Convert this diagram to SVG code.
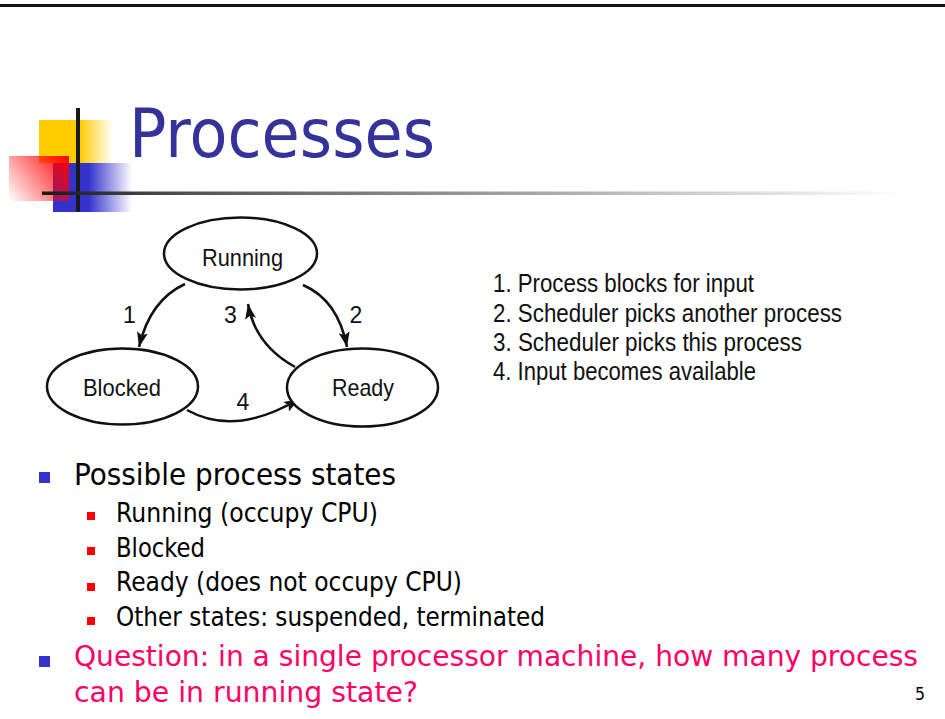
<svg xmlns="http://www.w3.org/2000/svg" width="945" height="719" viewBox="0 0 945 719">
  <defs>
    <style>
      .slide { font-family: "DejaVu Sans", Verdana, sans-serif; }
      .fig { font-family: "Liberation Sans", Arial, Helvetica, sans-serif; fill: #111; }
      .state { fill: #fff; stroke: #111; stroke-width: 2.5; }
      .edge { fill: none; stroke: #111; stroke-width: 2.5; marker-end: url(#head); }
      .b1 { fill: #3333cc; }
      .b2 { fill: #ff0000; }
    </style>
    <marker id="head" markerUnits="userSpaceOnUse" markerWidth="17" markerHeight="12" refX="15" refY="6" orient="auto">
      <path d="M0,0.5 L15,6 L0,11.5 L3,6 Z" fill="#111"/>
    </marker>
    <linearGradient id="gYellow" gradientUnits="userSpaceOnUse" x1="39" y1="0" x2="113" y2="0">
      <stop offset="0" stop-color="#ffcc00"/>
      <stop offset="0.55" stop-color="#ffcc00"/>
      <stop offset="1" stop-color="#ffcc00" stop-opacity="0"/>
    </linearGradient>
    <linearGradient id="gBlue" gradientUnits="userSpaceOnUse" x1="53" y1="0" x2="132" y2="0">
      <stop offset="0" stop-color="#3333cc"/>
      <stop offset="0.45" stop-color="#3333cc"/>
      <stop offset="1" stop-color="#3333cc" stop-opacity="0"/>
    </linearGradient>
    <linearGradient id="gRed" gradientUnits="userSpaceOnUse" x1="69" y1="156" x2="9" y2="201">
      <stop offset="0" stop-color="#ff0000"/>
      <stop offset="1" stop-color="#ff0000" stop-opacity="0"/>
    </linearGradient>
    <linearGradient id="gRule" gradientUnits="userSpaceOnUse" x1="42" y1="0" x2="900" y2="0">
      <stop offset="0" stop-color="#1a1a1a"/>
      <stop offset="0.18" stop-color="#555"/>
      <stop offset="1" stop-color="#fff"/>
    </linearGradient>
  </defs>

  <rect width="945" height="719" fill="#fff"/>

  <!-- top border -->
  <rect x="0" y="4" width="945" height="3" fill="#111"/>

  <!-- title ornament -->
  <g id="logo">
    <rect x="39" y="120" width="74" height="43" fill="url(#gYellow)"/>
    <rect x="53" y="163" width="79" height="49" fill="url(#gBlue)"/>
    <rect x="9" y="156" width="60" height="45" fill="url(#gRed)"/>
    <rect x="76" y="108" width="4" height="104" fill="#1a1a1a"/>
    <rect x="42" y="191.5" width="858" height="3.5" fill="url(#gRule)"/>
  </g>

  <text id="title" class="slide" x="129" y="157" font-size="67" fill="#333399" textLength="306" lengthAdjust="spacingAndGlyphs">Processes</text>

  <!-- state diagram: connectors -->
  <g id="connectors">
    <path class="edge" d="M185,284 Q150,300 139,347"/>
    <path class="edge" d="M303,285 Q338,300 347,347"/>
    <path class="edge" d="M295,367 Q255,345 248,304"/>
    <path class="edge" d="M187,410 Q235,437 299,399"/>
    <g class="fig" font-size="23" text-anchor="middle">
      <text x="129.5" y="323">1</text>
      <text x="356" y="323">2</text>
      <text x="230.5" y="323">3</text>
      <text x="243" y="410">4</text>
    </g>
  </g>

  <g id="running">
    <ellipse class="state" cx="240.5" cy="253.5" rx="76.5" ry="36"/>
    <text class="fig" x="202" y="265.5" font-size="24" textLength="81" lengthAdjust="spacingAndGlyphs">Running</text>
  </g>
  <g id="blocked">
    <ellipse class="state" cx="122.5" cy="386.5" rx="75.5" ry="38"/>
    <text class="fig" x="83" y="396" font-size="24" textLength="78" lengthAdjust="spacingAndGlyphs">Blocked</text>
  </g>
  <g id="ready">
    <ellipse class="state" cx="362.5" cy="387.5" rx="75.5" ry="39"/>
    <text class="fig" x="332" y="396" font-size="24" textLength="62" lengthAdjust="spacingAndGlyphs">Ready</text>
  </g>

  <!-- transition legend -->
  <g id="legend" class="fig" font-size="25">
    <text x="493" y="292" textLength="261" lengthAdjust="spacingAndGlyphs">1. Process blocks for input</text>
    <text x="493" y="321.5" textLength="349" lengthAdjust="spacingAndGlyphs">2. Scheduler picks another process</text>
    <text x="493" y="351" textLength="309" lengthAdjust="spacingAndGlyphs">3. Scheduler picks this process</text>
    <text x="493" y="380" textLength="263" lengthAdjust="spacingAndGlyphs">4. Input becomes available</text>
  </g>

  <!-- bullet list -->
  <g id="bullets" class="slide">
    <rect class="b1" x="39" y="472" width="11" height="11"/>
    <text x="74" y="485" font-size="30" fill="#000" textLength="322" lengthAdjust="spacingAndGlyphs">Possible process states</text>

    <rect class="b2" x="87" y="512" width="8" height="8"/>
    <text x="116" y="522" font-size="27" fill="#000" textLength="262" lengthAdjust="spacingAndGlyphs">Running (occupy CPU)</text>
    <rect class="b2" x="87" y="547" width="8" height="8"/>
    <text x="116" y="557" font-size="27" fill="#000" textLength="89" lengthAdjust="spacingAndGlyphs">Blocked</text>
    <rect class="b2" x="87" y="583" width="8" height="8"/>
    <text x="116" y="591" font-size="27" fill="#000" textLength="346" lengthAdjust="spacingAndGlyphs">Ready (does not occupy CPU)</text>
    <rect class="b2" x="87" y="617" width="8" height="8"/>
    <text x="116" y="626" font-size="27" fill="#000" textLength="429" lengthAdjust="spacingAndGlyphs">Other states: suspended, terminated</text>

    <rect class="b1" x="39" y="656" width="11" height="11"/>
    <text x="74" y="666" font-size="28" fill="#ff0066" textLength="844" lengthAdjust="spacingAndGlyphs">Question: in a single processor machine, how many process</text>
    <text x="74" y="702" font-size="28" fill="#ff0066" textLength="344" lengthAdjust="spacingAndGlyphs">can be in running state?</text>
  </g>

  <text id="page" class="slide" x="915" y="700" font-size="18" fill="#000" textLength="10" lengthAdjust="spacingAndGlyphs">5</text>
</svg>
